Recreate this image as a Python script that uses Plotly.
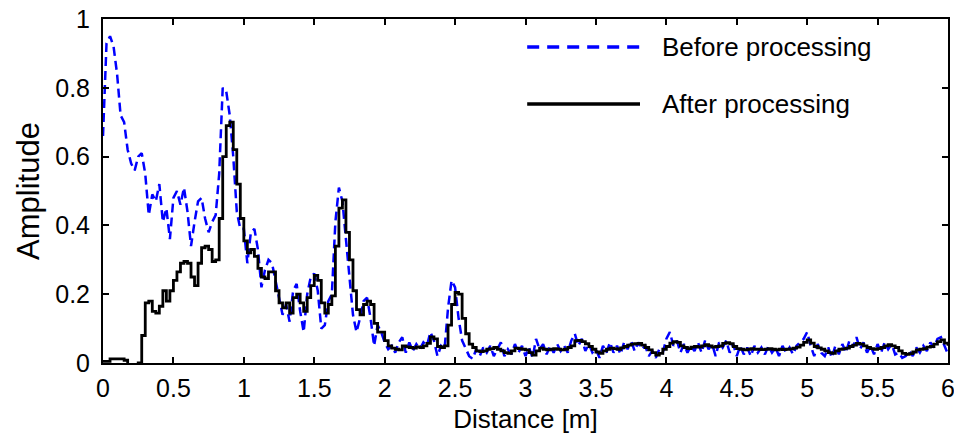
import numpy as np
import plotly.graph_objects as go

# Sampling grid along the range axis [m]
step = 0.025
distance = np.round(np.arange(0, 6 + step / 2, step), 3)

# Amplitude of the raw signal
before = [
    0.66, 0.93, 0.95, 0.92, 0.84, 0.72, 0.70, 0.62, 0.58, 0.56,
    0.60, 0.61, 0.55, 0.43, 0.49, 0.47, 0.52, 0.41, 0.45, 0.36,
    0.48, 0.50, 0.46, 0.51, 0.44, 0.34, 0.41, 0.47, 0.48, 0.42,
    0.38, 0.41, 0.43, 0.55, 0.80, 0.79, 0.72, 0.60, 0.44, 0.39,
    0.39, 0.29, 0.38, 0.39, 0.33, 0.22, 0.27, 0.30, 0.29, 0.24,
    0.18, 0.14, 0.17, 0.12, 0.21, 0.23, 0.15, 0.09, 0.20, 0.25,
    0.26, 0.21, 0.10, 0.11, 0.18, 0.20, 0.41, 0.51, 0.47, 0.36,
    0.26, 0.14, 0.09, 0.13, 0.18, 0.19, 0.13, 0.05, 0.11, 0.09,
    0.06, 0.04, 0.05, 0.03, 0.06, 0.075, 0.03, 0.06, 0.035, 0.055,
    0.04, 0.06, 0.05, 0.09, 0.065, 0.02, 0.05, 0.04, 0.16, 0.24,
    0.22, 0.13, 0.065, 0.04, 0.02, 0.012, 0.04, 0.02, 0.045, 0.03,
    0.05, 0.02, 0.04, 0.06, 0.02, 0.04, 0.025, 0.055, 0.03, 0.05,
    0.02, 0.045, 0.015, 0.07, 0.04, 0.055, 0.025, 0.05, 0.03, 0.055,
    0.035, 0.05, 0.03, 0.065, 0.085, 0.05, 0.07, 0.035, 0.055, 0.03,
    0.04, 0.015, 0.05, 0.03, 0.06, 0.03, 0.05, 0.025, 0.06, 0.04,
    0.065, 0.035, 0.06, 0.04, 0.05, 0.02, 0.035, 0.015, 0.04, 0.03,
    0.07, 0.09, 0.05, 0.065, 0.03, 0.055, 0.03, 0.05, 0.035, 0.06,
    0.03, 0.065, 0.04, 0.055, 0.02, 0.06, 0.045, 0.065, 0.03, 0.055,
    0.02, 0.05, 0.025, 0.045, 0.02, 0.05, 0.03, 0.045, 0.025, 0.05,
    0.03, 0.045, 0.02, 0.05, 0.03, 0.045, 0.025, 0.05, 0.06, 0.07,
    0.09, 0.05, 0.02, 0.055, 0.03, 0.02, 0.045, 0.015, 0.05, 0.025,
    0.055, 0.03, 0.065, 0.045, 0.075, 0.04, 0.06, 0.03, 0.05, 0.025,
    0.055, 0.03, 0.06, 0.04, 0.055, 0.025, 0.03, 0.015, 0.02, 0.035,
    0.02, 0.045, 0.03, 0.05, 0.035, 0.06, 0.045, 0.07, 0.075, 0.05,
    0.025,
]

# Amplitude after processing
after = [
    0.005, 0.005, 0.012, 0.012, 0.012, 0.012, 0.008, -0.005, -0.008, -0.012,
    0.0, 0.08, 0.175, 0.18, 0.15, 0.145, 0.165, 0.21, 0.18, 0.21,
    0.24, 0.265, 0.29, 0.295, 0.29, 0.25, 0.225, 0.29, 0.335, 0.34,
    0.33, 0.295, 0.30, 0.42, 0.60, 0.69, 0.70, 0.62, 0.52, 0.42,
    0.355, 0.32, 0.33, 0.31, 0.275, 0.25, 0.245, 0.265, 0.265, 0.21,
    0.175, 0.16, 0.175, 0.145, 0.19, 0.20, 0.175, 0.15, 0.19, 0.225,
    0.255, 0.24, 0.175, 0.145, 0.17, 0.195, 0.34, 0.45, 0.474, 0.38,
    0.30, 0.21, 0.155, 0.14, 0.17, 0.18, 0.17, 0.115, 0.09, 0.09,
    0.065, 0.05, 0.043, 0.04, 0.038, 0.05, 0.047, 0.045, 0.043, 0.047,
    0.045, 0.05, 0.057, 0.076, 0.07, 0.048, 0.045, 0.05, 0.11, 0.17,
    0.205, 0.20, 0.13, 0.085, 0.055, 0.045, 0.035, 0.033, 0.035, 0.04,
    0.042, 0.045, 0.04, 0.035, 0.03, 0.028, 0.035, 0.043, 0.042, 0.04,
    0.038, 0.03, 0.023, 0.035, 0.043, 0.04, 0.038, 0.04, 0.042, 0.04,
    0.038, 0.04, 0.045, 0.05, 0.065, 0.066, 0.062, 0.056, 0.048, 0.04,
    0.032, 0.028, 0.035, 0.04, 0.043, 0.042, 0.04, 0.044, 0.048, 0.052,
    0.055, 0.056, 0.057, 0.052, 0.045, 0.038, 0.03, 0.023, 0.028, 0.04,
    0.048, 0.058, 0.062, 0.06, 0.05, 0.045, 0.042, 0.046, 0.048, 0.046,
    0.05, 0.053, 0.05, 0.046, 0.048, 0.05, 0.057, 0.059, 0.056, 0.048,
    0.042, 0.04, 0.038, 0.04, 0.042, 0.04, 0.04, 0.039, 0.04, 0.042,
    0.04, 0.038, 0.04, 0.039, 0.04, 0.041, 0.043, 0.046, 0.052, 0.06,
    0.067, 0.058, 0.048, 0.044, 0.04, 0.035, 0.03, 0.028, 0.035, 0.04,
    0.041, 0.043, 0.048, 0.052, 0.057, 0.055, 0.05, 0.045, 0.042, 0.04,
    0.042, 0.045, 0.05, 0.053, 0.05, 0.045, 0.035, 0.028, 0.025, 0.027,
    0.032, 0.038, 0.04, 0.042, 0.046, 0.048, 0.055, 0.062, 0.067, 0.058,
    0.05,
]

assert len(before) == len(distance) == len(after)

x_ticks = [0, 0.5, 1, 1.5, 2, 2.5, 3, 3.5, 4, 4.5, 5, 5.5, 6]
x_tick_text = ["0", "0.5", "1", "1.5", "2", "2.5", "3", "3.5", "4", "4.5", "5", "5.5", "6"]
y_ticks = [0, 0.2, 0.4, 0.6, 0.8, 1]
y_tick_text = ["0", "0.2", "0.4", "0.6", "0.8", "1"]

series_names = ["Before processing", "After processing"]

FONT = "Liberation Sans, Arial, Helvetica, sans-serif"
BLUE = "#0000ff"

fig = go.Figure()
fig.add_trace(go.Scatter(
    x=distance, y=before, mode="lines", name=series_names[0],
    line=dict(color=BLUE, width=2.5, dash="9px,5px"),
    showlegend=False,
))
fig.add_trace(go.Scatter(
    x=distance, y=after, mode="lines", name=series_names[1],
    line=dict(color="black", width=2.8, shape="hv"),
    showlegend=False,
))

# Hand-drawn legend in the upper right of the plot area
legend_rows = [
    (series_names[0], 0.9186, dict(color=BLUE, width=3.5, dash="12px,8px")),
    (series_names[1], 0.753, dict(color="black", width=3.5)),
]
for label, yy, style in legend_rows:
    fig.add_shape(type="line", xref="paper", yref="paper",
                  x0=0.502, x1=0.6355, y0=yy, y1=yy, line=style)
    fig.add_annotation(xref="paper", yref="paper", x=0.659, y=yy,
                       text=label, showarrow=False, xanchor="left",
                       yanchor="middle", font=dict(family=FONT, size=26, color="black"))

axis_common = dict(
    showline=True, linecolor="black", linewidth=2, mirror="ticks",
    ticks="inside", ticklen=6, tickwidth=1.5, tickcolor="black",
    showgrid=False, zeroline=False, automargin=False,
    ticklabeloverflow="allow",
    tickfont=dict(family=FONT, size=25, color="black"),
)

fig.update_layout(
    width=954, height=438,
    margin=dict(l=103, r=6, t=19, b=75),
    paper_bgcolor="white", plot_bgcolor="white",
    font=dict(family=FONT, color="black"),
    xaxis=dict(range=[0, 6], tickvals=x_ticks, ticktext=x_tick_text,
               title=dict(text="Distance [m]", font=dict(family=FONT, size=26), standoff=9),
               ticklabelstandoff=2, **axis_common),
    yaxis=dict(range=[0, 1], tickvals=y_ticks, ticktext=y_tick_text,
               title=dict(text="Amplitude", font=dict(family=FONT, size=31), standoff=6),
               ticklabelstandoff=6, **axis_common),
)

fig.write_html("out.html")
